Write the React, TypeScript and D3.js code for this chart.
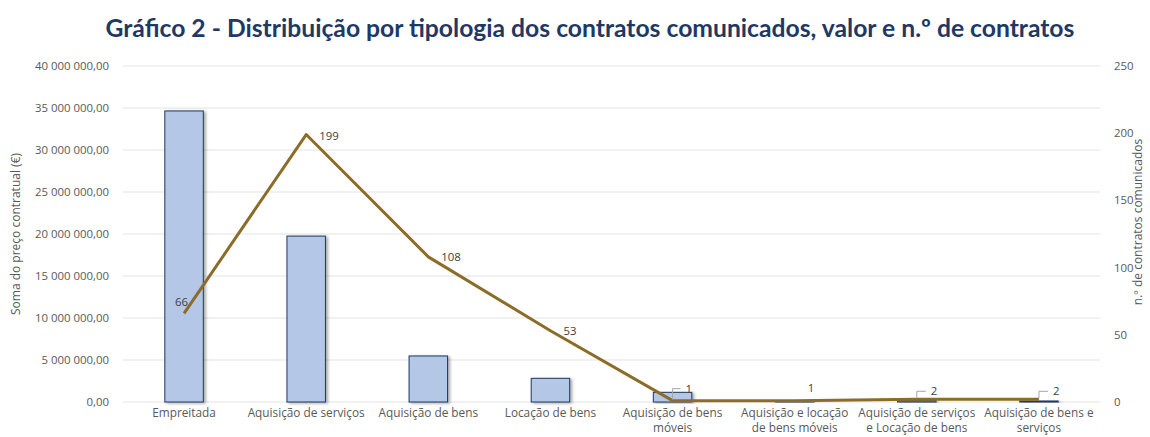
import React from "react";
import * as d3 from "d3";

const categories: string[][] = [
  ["Empreitada"],
  ["Aquisição de serviços"],
  ["Aquisição de bens"],
  ["Locação de bens"],
  ["Aquisição de bens", "móveis"],
  ["Aquisição e locação", "de bens móveis"],
  ["Aquisição de serviços", "e Locação de bens"],
  ["Aquisição de bens e", "serviços"],
];
const valores: number[] = [34650000, 19750000, 5480000, 2820000, 1150000, 40000, 150000, 120000];
const contratos: number[] = [66, 199, 108, 53, 1, 1, 2, 2];
const leftTicks: number[] = [0, 5e6, 10e6, 15e6, 20e6, 25e6, 30e6, 35e6, 40e6];
const rightTicks: number[] = [0, 50, 100, 150, 200, 250];

const title = "Gráfico 2 - Distribuição por tipologia dos contratos comunicados, valor e n.º de contratos";
const leftTitle = "Soma do preço contratual (€)";
const rightTitle = "n.º de contratos comunicados";

// label placement (style): dx, dy relative to point, and whether a leader line is drawn
const labelPlacement: { dx: number; dy: number; leader: boolean }[] = [
  { dx: -9, dy: -11, leader: false },
  { dx: 13, dy: 1, leader: false },
  { dx: 13, dy: 0, leader: false },
  { dx: 13, dy: 0, leader: false },
  { dx: 13, dy: -12, leader: true },
  { dx: 13, dy: -13, leader: false },
  { dx: 14, dy: -8, leader: true },
  { dx: 14, dy: -8, leader: true },
];

const W = 1150;
const H = 437;
const L = 123;
const R = 1100;
const T = 66;
const B = 402;

const locale = d3.formatLocale({ decimal: ",", thousands: " ", grouping: [3], currency: ["", "€"] });
const fmt = locale.format(",.2f");

export default function App() {
  const x = d3.scaleBand<number>().domain(d3.range(categories.length)).range([L, R]).padding(0);
  const yL = d3.scaleLinear().domain([0, 40e6]).range([B, T]);
  const yR = d3.scaleLinear().domain([0, 250]).range([B, T]);
  const bw = x.bandwidth() * 0.315;
  const cx = (i: number) => (x(i) as number) + x.bandwidth() / 2;
  const line = d3
    .line<number>()
    .x((_, i) => cx(i))
    .y((d) => yR(d));

  const font = "'Open Sans', 'Noto Sans', sans-serif";
  const grey = "#595959";

  return (
    <div style={{ position: "absolute", left: 0, top: 0 }}>
      <svg width={W} height={H} style={{ display: "block", background: "#fff" }}>
        <defs>
          <filter id="shadow" x="-30%" y="-10%" width="160%" height="130%">
            <feDropShadow dx="2" dy="1" stdDeviation="1.5" floodColor="#000" floodOpacity="0.35" />
          </filter>
        </defs>
        <text
          x={590}
          y={37}
          textAnchor="middle"
          fontFamily="Lato, 'Open Sans', sans-serif"
          fontWeight={700}
          fontSize={24.7}
          fill="#1f3864"
        >
          {title}
        </text>
        {leftTicks.map((t) => (
          <g key={t}>
            <line x1={L} x2={R} y1={yL(t)} y2={yL(t)} stroke="#e3e3e3" strokeWidth={1.2} />
            <text x={109} y={yL(t)} dy="0.35em" textAnchor="end" fontFamily={font} fontSize={11.4} fill={grey}>
              {fmt(t)}
            </text>
          </g>
        ))}
        {rightTicks.map((t) => (
          <text key={t} x={1114} y={yR(t)} dy="0.35em" textAnchor="start" fontFamily={font} fontSize={11.4} fill={grey}>
            {t}
          </text>
        ))}
        <text
          transform={`translate(20,${(T + B) / 2}) rotate(-90)`}
          textAnchor="middle"
          fontFamily={font}
          fontSize={12}
          fill={grey}
        >
          {leftTitle}
        </text>
        <text
          transform={`translate(1142,${(T + B) / 2 - 12}) rotate(-90)`}
          textAnchor="middle"
          fontFamily={font}
          fontSize={12}
          fill={grey}
        >
          {rightTitle}
        </text>
        {valores.map((v, i) => (
          <rect
            key={i}
            x={cx(i) - bw / 2}
            y={yL(v)}
            width={bw}
            height={B - yL(v)}
            fill="#b4c7e7"
            stroke="#1f3864"
            strokeWidth={1}
            filter="url(#shadow)"
          />
        ))}
        {categories.map((lines, i) => (
          <text key={i} x={cx(i)} y={417} textAnchor="middle" fontFamily={font} fontSize={11.8} fill={grey}>
            {lines.map((s, j) => (
              <tspan key={j} x={cx(i)} dy={j === 0 ? 0 : 14.5}>
                {s}
              </tspan>
            ))}
          </text>
        ))}
        <path d={line(contratos) || ""} fill="none" stroke="#8b6c28" strokeWidth={3} strokeLinejoin="round" />
        {contratos.map((c, i) => {
          const p = labelPlacement[i];
          const px = cx(i);
          const py = yR(c);
          const lx = px + p.dx;
          const ly = py + p.dy;
          return (
            <g key={i}>
              {p.leader && (
                <polyline
                  points={`${px},${py - 1} ${px},${ly} ${lx - 5},${ly}`}
                  fill="none"
                  stroke="#a6a6a6"
                  strokeWidth={1}
                />
              )}
              <text x={lx} y={ly} dy="0.35em" textAnchor="start" fontFamily={font} fontSize={11.4} fill="#404040">
                {c}
              </text>
            </g>
          );
        })}
      </svg>
    </div>
  );
}
